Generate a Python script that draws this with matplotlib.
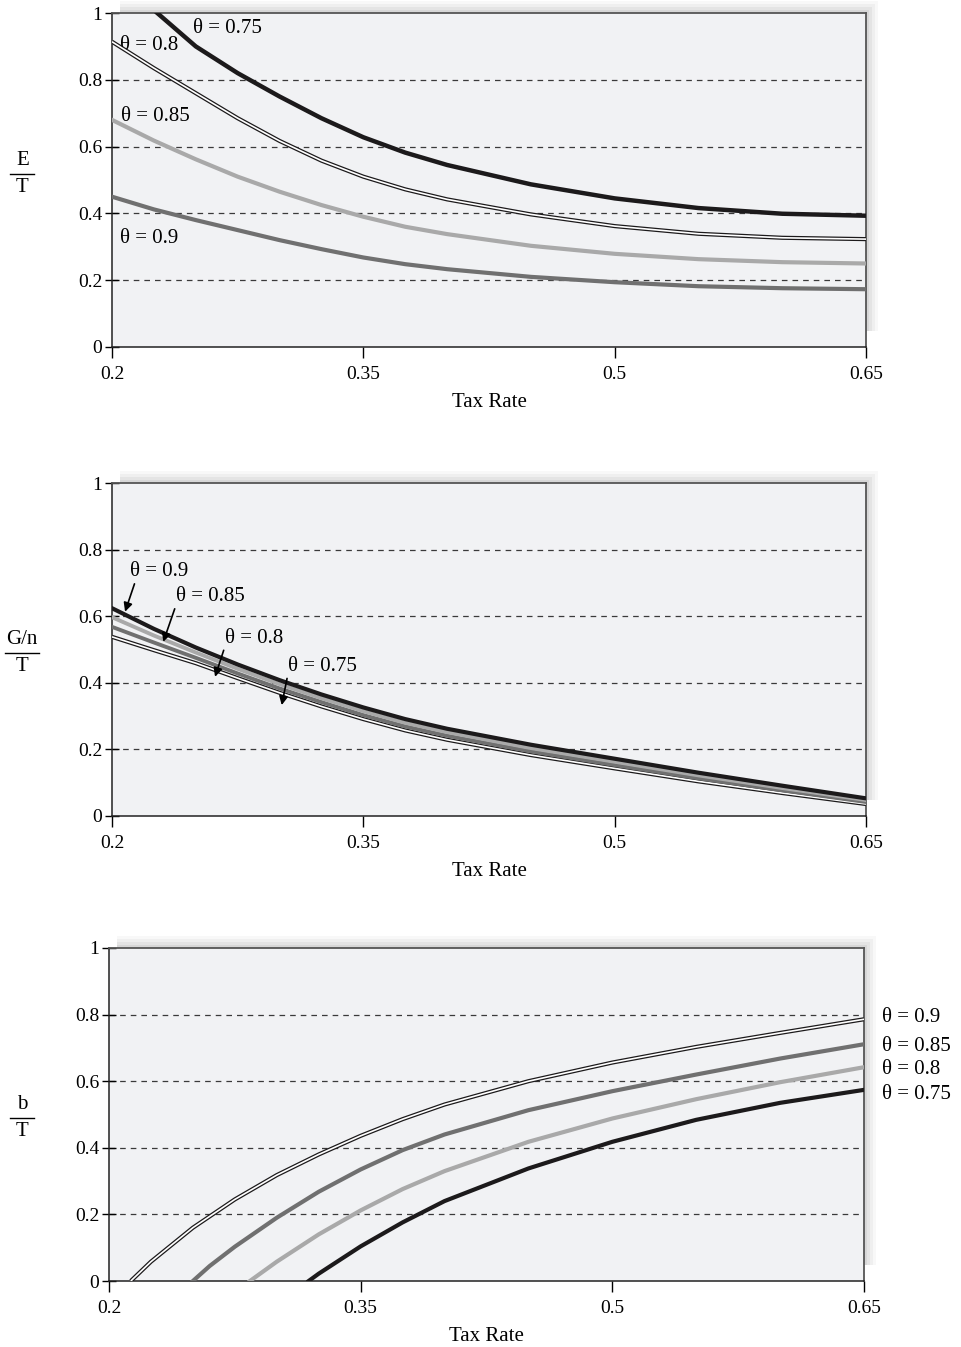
import numpy as np
import matplotlib
matplotlib.use('Agg')
import matplotlib.pyplot as plt
from matplotlib.patches import Rectangle
from matplotlib.lines import Line2D

plt.rcParams['font.family'] = ['Liberation Serif', 'DejaVu Serif']

# ---- data ----
tax = [0.2, 0.225, 0.25, 0.275, 0.3, 0.325, 0.35, 0.375, 0.4, 0.45, 0.5, 0.55, 0.6, 0.65]

# panel 1: E/T
e_075_tax = [0.227, 0.25, 0.275, 0.3, 0.325, 0.35, 0.375, 0.4, 0.45, 0.5, 0.55, 0.6, 0.65]
e_075 = [1.0, 0.90, 0.82, 0.75, 0.685, 0.628, 0.582, 0.545, 0.487, 0.445, 0.416, 0.399, 0.393]
e_080 = [0.914, 0.835, 0.76, 0.685, 0.617, 0.558, 0.51, 0.472, 0.442, 0.397, 0.362, 0.339, 0.327, 0.323]
e_085 = [0.68, 0.618, 0.562, 0.51, 0.465, 0.425, 0.39, 0.36, 0.338, 0.303, 0.279, 0.263, 0.254, 0.25]
e_090 = [0.45, 0.412, 0.38, 0.35, 0.32, 0.293, 0.268, 0.248, 0.233, 0.21, 0.194, 0.182, 0.176, 0.173]

# panel 2: (G/n)/T
g_090 = [0.624, 0.562, 0.506, 0.455, 0.408, 0.365, 0.326, 0.291, 0.262, 0.214, 0.172, 0.13, 0.091, 0.053]
g_085 = [0.597, 0.542, 0.491, 0.442, 0.396, 0.354, 0.315, 0.280, 0.252, 0.204, 0.163, 0.122, 0.084, 0.048]
g_080 = [0.568, 0.521, 0.475, 0.428, 0.383, 0.342, 0.303, 0.269, 0.241, 0.194, 0.153, 0.113, 0.077, 0.042]
g_075 = [0.538, 0.498, 0.459, 0.414, 0.370, 0.329, 0.291, 0.257, 0.229, 0.183, 0.143, 0.104, 0.069, 0.036]

# panel 3: b/T
b_090_tax = [0.213, 0.225, 0.25, 0.275, 0.3, 0.325, 0.35, 0.375, 0.4, 0.45, 0.5, 0.55, 0.6, 0.65]
b_090 = [0.0, 0.058, 0.16, 0.245, 0.318, 0.38, 0.436, 0.486, 0.53, 0.6, 0.656, 0.703, 0.745, 0.786]
b_085_tax = [0.25, 0.26, 0.275, 0.3, 0.325, 0.35, 0.375, 0.4, 0.45, 0.5, 0.55, 0.6, 0.65]
b_085 = [0.0, 0.045, 0.103, 0.19, 0.268, 0.335, 0.393, 0.44, 0.513, 0.57, 0.62, 0.668, 0.711]
b_080_tax = [0.284, 0.3, 0.325, 0.35, 0.375, 0.4, 0.45, 0.5, 0.55, 0.6, 0.65]
b_080 = [0.0, 0.058, 0.14, 0.212, 0.276, 0.33, 0.418, 0.488, 0.546, 0.597, 0.642]
b_075_tax = [0.319, 0.325, 0.35, 0.375, 0.4, 0.45, 0.5, 0.55, 0.6, 0.65]
b_075 = [0.0, 0.022, 0.104, 0.176, 0.24, 0.338, 0.418, 0.484, 0.535, 0.574]

xticks = [0.2, 0.35, 0.5, 0.65]
xtick_labels = ['0.2', '0.35', '0.5', '0.65']
yticks = [0, 0.2, 0.4, 0.6, 0.8, 1]
ytick_labels = ['0', '0.2', '0.4', '0.6', '0.8', '1']

BLACK = '#1c1a1b'
DARK = '#707070'
LIGHT = '#a9a9a9'
BG = '#f1f2f4'

W, H = 962, 1347
fig = plt.figure(figsize=(W / 100, H / 100), dpi=100)


def px_rect(left, top, right, bottom):
    return [left / W, 1 - bottom / H, (right - left) / W, (bottom - top) / H]


def add_shadow(left, top, right, bottom):
    # soft grey drop shadow, offset up and to the right, behind the axes
    for off, a in [(12, 0.06), (9, 0.08), (6, 0.10), (3, 0.14)]:
        r = Rectangle(((left + 8) / W, 1 - (bottom - 16) / H),
                      (right - left - 8 + off) / W, (bottom - top - 16 + off) / H,
                      transform=fig.transFigure, facecolor='#8a8a8a', alpha=a,
                      edgecolor='none', zorder=-1)
        fig.patches.append(r)


def double_line(ax, x, y):
    ax.plot(x, y, color=BLACK, lw=3.0, solid_capstyle='butt', zorder=3)
    ax.plot(x, y, color='white', lw=1.2, solid_capstyle='butt', zorder=3.1)


def frac_label(ax, top, bottom, xa, ya, width):
    ax.text(xa, ya + 0.012, top, transform=ax.transAxes, ha='center', va='bottom', fontsize=15)
    ax.text(xa, ya - 0.012, bottom, transform=ax.transAxes, ha='center', va='top', fontsize=15)
    ax.add_line(Line2D([xa - width / 2, xa + width / 2], [ya, ya], transform=ax.transAxes,
                       color='k', lw=1.0, clip_on=False))


def style(ax):
    ax.set_facecolor(BG)
    ax.set_xlim(0.2, 0.65)
    ax.set_ylim(0, 1)
    ax.set_xticks(xticks)
    ax.set_xticklabels(xtick_labels)
    ax.set_yticks(yticks)
    ax.set_yticklabels(ytick_labels)
    ax.tick_params(axis='y', direction='inout', length=10, width=1, labelsize=14, pad=2)
    ax.tick_params(axis='x', direction='out', length=8, width=1, labelsize=14, pad=6)
    for y in [0.2, 0.4, 0.6, 0.8]:
        ax.axhline(y, color='#3a3a3a', lw=0.9, dashes=(4.5, 4), zorder=1)
    for s in ['left', 'bottom']:
        ax.spines[s].set_color('#222222')
        ax.spines[s].set_linewidth(1.1)
    for s in ['top', 'right']:
        ax.spines[s].set_color('#555555')
        ax.spines[s].set_linewidth(1.3)
    ax.set_xlabel('Tax Rate', fontsize=15, labelpad=7)


# ---- panel 1 ----
r1 = (112, 13, 866, 347)
add_shadow(*r1)
ax1 = fig.add_axes(px_rect(*r1))
style(ax1)
ax1.plot(e_075_tax, e_075, color=BLACK, lw=3.2, zorder=3)
double_line(ax1, tax, e_080)
ax1.plot(tax, e_085, color=LIGHT, lw=3.0, zorder=3)
ax1.plot(tax, e_090, color=DARK, lw=3.0, zorder=3)
ax1.text(0.2483, 0.955, 'θ = 0.75', fontsize=15, va='center')
ax1.text(0.2045, 0.904, 'θ = 0.8', fontsize=15, va='center')
ax1.text(0.2055, 0.689, 'θ = 0.85', fontsize=15, va='center')
ax1.text(0.2045, 0.326, 'θ = 0.9', fontsize=15, va='center')
frac_label(ax1, 'E', 'T', -0.119, 0.518, 0.032)

# ---- panel 2 ----
r2 = (112, 483, 866, 816)
add_shadow(*r2)
ax2 = fig.add_axes(px_rect(*r2))
style(ax2)
double_line(ax2, tax, g_075)
ax2.plot(tax, g_080, color=DARK, lw=2.8, zorder=3.2)
ax2.plot(tax, g_085, color=LIGHT, lw=2.8, zorder=3.3)
ax2.plot(tax, g_090, color=BLACK, lw=3.0, zorder=3.4)
arrow = dict(arrowstyle='-|>', color='k', lw=1.2, mutation_scale=13, shrinkA=0, shrinkB=0)
ax2.annotate('θ = 0.9', xy=(0.2078, 0.6135), xytext=(0.2105, 0.734), fontsize=15,
             va='center', arrowprops=dict(arrow, relpos=(0.1, 0.0)), zorder=5)
ax2.annotate('θ = 0.85', xy=(0.2306, 0.523), xytext=(0.238, 0.659), fontsize=15,
             va='center', arrowprops=dict(arrow, relpos=(0.0, 0.0)), zorder=5)
ax2.annotate('θ = 0.8', xy=(0.2615, 0.418), xytext=(0.2672, 0.5345), fontsize=15,
             va='center', arrowprops=dict(arrow, relpos=(0.0, 0.0)), zorder=5)
ax2.annotate('θ = 0.75', xy=(0.3013, 0.333), xytext=(0.3048, 0.45), fontsize=15,
             va='center', arrowprops=dict(arrow, relpos=(0.0, 0.0)), zorder=5)
frac_label(ax2, 'G/n', 'T', -0.119, 0.49, 0.045)

# ---- panel 3 ----
r3 = (109, 948, 864, 1281)
add_shadow(*r3)
ax3 = fig.add_axes(px_rect(*r3))
style(ax3)
double_line(ax3, b_090_tax, b_090)
ax3.plot(b_085_tax, b_085, color=DARK, lw=3.0, zorder=3)
ax3.plot(b_080_tax, b_080, color=LIGHT, lw=3.0, zorder=3)
ax3.plot(b_075_tax, b_075, color=BLACK, lw=3.0, zorder=3)
for lab, yy in [('θ = 0.9', 0.79), ('θ = 0.85', 0.703), ('θ = 0.8', 0.634), ('θ = 0.75', 0.559)]:
    ax3.text(1.024, yy, lab, transform=ax3.transAxes, fontsize=15, va='center', clip_on=False)
frac_label(ax3, 'b', 'T', -0.115, 0.49, 0.032)

fig.savefig('out.png', dpi=100, facecolor='white')
